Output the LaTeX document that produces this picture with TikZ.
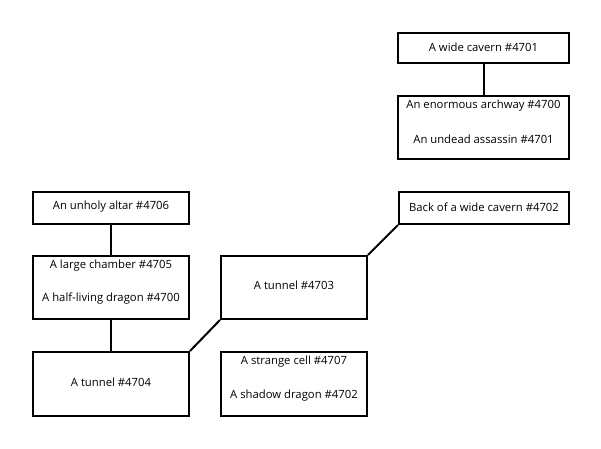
\documentclass[tikz,border=0pt]{standalone}
\usepackage{fontspec}
\setmainfont{Open Sans}
\begin{document}
\begin{tikzpicture}[x=1pt,y=-1pt,
  room/.style={draw=black, line width=2pt, fill=white, inner sep=0pt},
  lbl/.style={font=\fontsize{11.3}{13}\selectfont, inner sep=0pt},
  link/.style={draw=black, line width=2pt}]
\useasboundingbox[fill=white] (0,0) rectangle (601,448);
% boxes
\node[room, minimum width=171pt, minimum height=30pt] (wide) at (483.5,48) {};
\node[room, minimum width=171pt, minimum height=63pt] (arch) at (483.5,127.5) {};
\node[room, minimum width=170pt, minimum height=32pt] (back) at (484,208) {};
\node[room, minimum width=156pt, minimum height=32pt] (altar) at (111,208) {};
\node[room, minimum width=156pt, minimum height=63pt] (chamber) at (111,287.5) {};
\node[room, minimum width=146pt, minimum height=63pt] (t3) at (294,287.5) {};
\node[room, minimum width=156pt, minimum height=64pt] (t4) at (111,384) {};
\node[room, minimum width=146pt, minimum height=64pt] (cell) at (294,384) {};
% texts
\node[lbl] (wideT) at ([yshift=1pt]wide.center) {A wide cavern \#4701};
\node[lbl] (archT1) at ([yshift=-11pt]arch.north) {An enormous archway \#4700};
\node[lbl] (archT2) at ([yshift=21pt]arch.south) {An undead assassin \#4701};
\node[lbl] (backT) at ([yshift=1pt]back.center) {Back of a wide cavern \#4702};
\node[lbl] (altarT) at ([yshift=1pt]altar.center) {An unholy altar \#4706};
\node[lbl] (chamberT1) at ([yshift=-11pt]chamber.north) {A large chamber \#4705};
\node[lbl] (chamberT2) at ([yshift=21pt]chamber.south) {A half-living dragon \#4700};
\node[lbl] (t3T) at ([yshift=2pt]t3.center) {A tunnel \#4703};
\node[lbl] (t4T) at ([yshift=2pt]t4.center) {A tunnel \#4704};
\node[lbl] (cellT1) at ([yshift=-11pt]cell.north) {A strange cell \#4707};
\node[lbl] (cellT2) at ([yshift=21pt]cell.south) {A shadow dragon \#4702};
% connectors
\draw[link] (wide.south) -- (arch.north);
\draw[link] (altar.south) -- (chamber.north);
\draw[link] (chamber.south) -- (t4.north);
\draw[link] (t4.north east) -- (t3.south west);
\draw[link] (t3.north east) -- (back.south west);
\end{tikzpicture}
\end{document}
